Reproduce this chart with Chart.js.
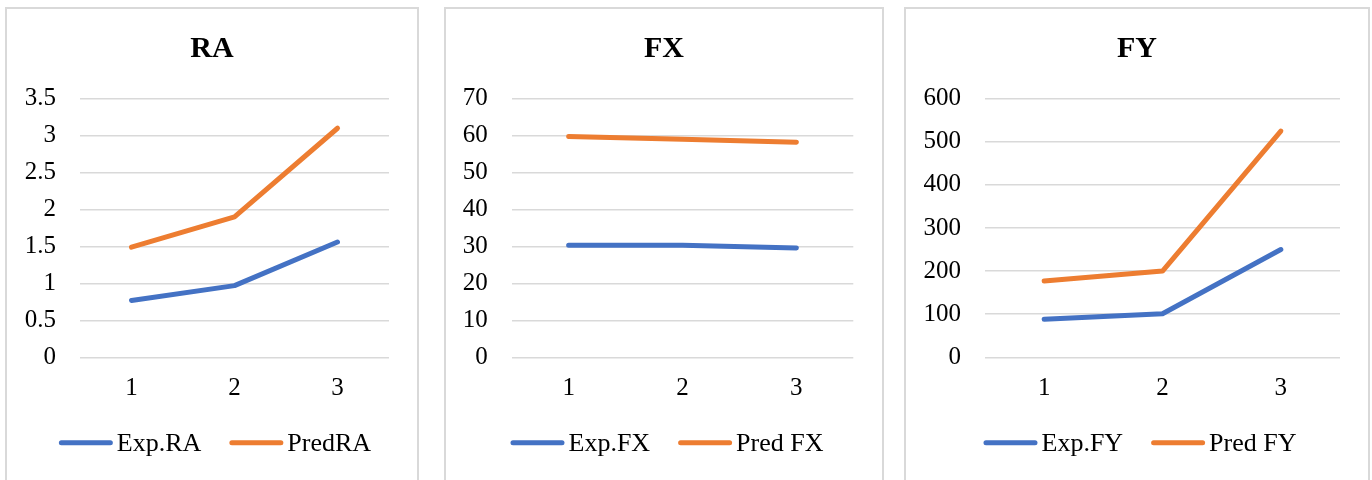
<!DOCTYPE html>
<html>
<head>
<meta charset="utf-8">
<script src="https://cdn.jsdelivr.net/npm/chart.js@4.4.1/dist/chart.umd.min.js"></script>
<style>
  html, body { margin: 0; padding: 0; background: #ffffff; }
  body { width: 1372px; height: 480px; position: relative; overflow: hidden; }
  .panel { position: absolute; box-sizing: border-box; border: 2px solid #d9d9d9; background: #fff; }
  canvas { position: absolute; }
</style>
</head>
<body>
<div class="panel" style="left:5px; top:7px; width:414px; height:490px;"></div>
<div class="panel" style="left:444px; top:7px; width:440px; height:490px;"></div>
<div class="panel" style="left:904px; top:7px; width:466px; height:490px;"></div>
<canvas id="chartRA" width="410" height="471" style="left:7px; top:9px;"></canvas>
<canvas id="chartFX" width="436" height="471" style="left:446px; top:9px;"></canvas>
<canvas id="chartFY" width="462" height="471" style="left:906px; top:9px;"></canvas>
<script>
// Run numbers along the x axis
const categories = ['1', '2', '3'];

// Surface roughness
const raExp = [0.77, 0.97, 1.56];
const raPred = [1.49, 1.90, 3.10];

// Feed force
const fxExp = [30.3, 30.3, 29.6];
const fxPred = [59.8, 59.0, 58.2];

// Thrust force
const fyExp = [88, 101, 250];
const fyPred = [177, 200, 525];

// Value axis ranges
const raAxis = { max: 3.5, step: 0.5 };
const fxAxis = { max: 70, step: 10 };
const fyAxis = { max: 600, step: 100 };

const BLUE = '#4472C4';
const ORANGE = '#ED7D31';
const GRID = '#d9d9d9';
const SERIF = '"Liberation Serif", "Times New Roman", Times, serif';

// Line-and-label key drawn under the plot, centred in the panel
const seriesKey = {
  id: 'seriesKey',
  afterDraw(chart, args, opts) {
    const ctx = chart.ctx;
    const lineLen = 49, capR = 2.5, textGap = 4, itemGap = 28;
    ctx.save();
    ctx.font = '26px ' + SERIF;
    ctx.textBaseline = 'middle';
    ctx.textAlign = 'left';
    const items = chart.data.datasets.map(ds => ({
      label: ds.label, color: ds.borderColor,
      w: capR + lineLen + capR + textGap + ctx.measureText(ds.label).width
    }));
    const total = items.reduce((s, it) => s + it.w, 0) + itemGap * (items.length - 1);
    let x = chart.width / 2 + opts.shift - total / 2;
    const y = opts.y;
    items.forEach(it => {
      ctx.beginPath();
      ctx.strokeStyle = it.color;
      ctx.lineWidth = 5;
      ctx.lineCap = 'round';
      ctx.moveTo(x + capR, y);
      ctx.lineTo(x + capR + lineLen, y);
      ctx.stroke();
      ctx.fillStyle = '#000';
      ctx.fillText(it.label, x + capR * 2 + lineLen + textGap, y + 1);
      x += it.w + itemGap;
    });
    ctx.restore();
  }
};

function makeChart(id, title, expLabel, predLabel, expVals, predVals, axis, geo) {
  return new Chart(document.getElementById(id), {
    type: 'line',
    data: {
      labels: categories,
      datasets: [
        { label: expLabel, data: expVals, borderColor: BLUE, backgroundColor: BLUE },
        { label: predLabel, data: predVals, borderColor: ORANGE, backgroundColor: ORANGE }
      ]
    },
    options: {
      responsive: false,
      animation: false,
      devicePixelRatio: 1,
      elements: {
        line: { borderWidth: 5, borderCapStyle: 'round', borderJoinStyle: 'round', tension: 0 },
        point: { radius: 0, hoverRadius: 0 }
      },
      layout: { padding: 0 },
      plugins: {
        legend: { display: false },
        tooltip: { enabled: false },
        title: {
          display: true,
          text: title,
          color: '#000',
          font: { family: SERIF, size: 30, weight: 'bold', lineHeight: 1.2 },
          padding: { top: 22.5, bottom: 31.2 }
        },
        seriesKey: { y: 433.7, shift: 3 }
      },
      scales: {
        x: {
          offset: true,
          grid: { display: false, drawTicks: false },
          border: { display: false },
          ticks: { color: '#000', font: { family: SERIF, size: 25 }, padding: 16, maxRotation: 0 },
          afterFit(scale) { scale.height = 122.7; }
        },
        y: {
          min: 0,
          max: axis.max,
          grid: { color: GRID, lineWidth: 1.5, drawTicks: false },
          border: { display: false },
          ticks: {
            stepSize: axis.step,
            color: '#000',
            font: { family: SERIF, size: 25 },
            padding: 24,
            callback: (value) => String(Number(value.toFixed(2)))
          },
          afterFit(scale) { scale.width = geo.yWidth; }
        },
        // empty margin on the right of the plot
        gutter: {
          type: 'linear',
          position: 'right',
          grid: { display: false, drawTicks: false },
          border: { display: false },
          ticks: { display: false },
          afterFit(scale) { scale.width = geo.right; }
        }
      }
    },
    plugins: [seriesKey]
  });
}

makeChart('chartRA', 'RA', 'Exp.RA', 'PredRA', raExp, raPred, raAxis, { yWidth: 73, right: 28 });
makeChart('chartFX', 'FX', 'Exp.FX', 'Pred FX', fxExp, fxPred, fxAxis, { yWidth: 65.7, right: 28.7 });
makeChart('chartFY', 'FY', 'Exp.FY', 'Pred FY', fyExp, fyPred, fyAxis, { yWidth: 79, right: 28 });
</script>
</body>
</html>
